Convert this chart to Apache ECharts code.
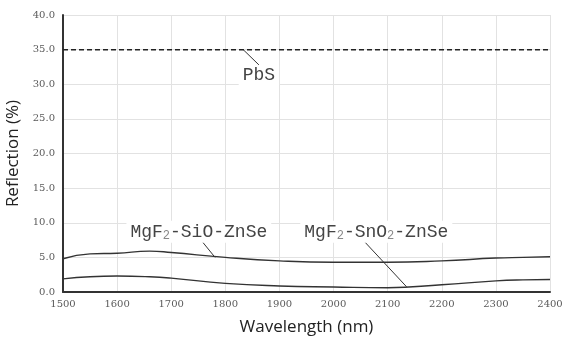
<!DOCTYPE html>
<html>
<head>
<meta charset="utf-8">
<script src="https://cdn.jsdelivr.net/npm/echarts@6/dist/echarts.min.js"></script>
<style>
  html, body { margin: 0; padding: 0; background: #fff; }
  #chart { width: 563px; height: 340px; }
</style>
</head>
<body>
<div id="chart"></div>
<script>
const wavelengths = [1500, 1550, 1600, 1660, 1700, 1800, 1900, 2000, 2100, 2200, 2300, 2350, 2400];
const sioZnse = [4.8, 5.5, 5.6, 5.9, 5.7, 5.0, 4.5, 4.3, 4.3, 4.5, 4.9, 5.0, 5.1];
const sno2Znse = [1.9, 2.2, 2.3, 2.2, 2.0, 1.25, 0.87, 0.72, 0.62, 1.05, 1.6, 1.75, 1.8];
const pbsLevel = 35;
const xTicks = [1500, 2400, 100];
const yTicks = [0, 40, 5];

const chart = echarts.init(document.getElementById('chart'));

const monoFont = '"Liberation Mono", "DejaVu Sans Mono", monospace';
const labelRich = {
  t: { fontFamily: monoFont, fontSize: 18, color: '#444' },
  s: { fontFamily: monoFont, fontSize: 12, color: '#888', padding: [8, 0, 0, 0] }
};

function note(x, y, text) {
  return {
    coord: [x, y],
    symbol: 'rect',
    symbolSize: 1,
    itemStyle: { color: 'rgba(255,255,255,0)' },
    label: {
      show: true,
      position: 'inside',
      formatter: text,
      rich: labelRich,
      backgroundColor: '#fff',
      padding: [1, 4]
    }
  };
}

function leader(x1, y1, x2, y2) {
  return [{ coord: [x1, y1] }, { coord: [x2, y2] }];
}

const leaderStyle = { color: '#333', width: 1, type: 'solid' };

const option = {
  animation: false,
  grid: { left: 63, right: 13, top: 15, bottom: 48, outerBoundsMode: 'none' },
  xAxis: {
    type: 'value',
    min: xTicks[0],
    max: xTicks[1],
    interval: xTicks[2],
    name: 'Wavelength (nm)',
    nameLocation: 'middle',
    nameGap: 27,
    nameTextStyle: { fontFamily: '"Open Sans", sans-serif', fontSize: 17, color: '#222' },
    axisLine: { lineStyle: { color: '#333', width: 2 } },
    axisTick: { show: false },
    axisLabel: { color: '#5a5a5a', fontSize: 10, fontFamily: '"DejaVu Serif", serif', margin: 7,
      formatter: v => String(v) },
    splitLine: { lineStyle: { color: '#e2e2e2', width: 1 } }
  },
  yAxis: {
    type: 'value',
    min: yTicks[0],
    max: yTicks[1],
    interval: yTicks[2],
    name: 'Reflection (%)',
    nameLocation: 'middle',
    nameGap: 35,
    nameTextStyle: { fontFamily: '"Open Sans", sans-serif', fontSize: 17, color: '#222' },
    axisLine: { show: true, lineStyle: { color: '#333', width: 2 } },
    axisTick: { show: false },
    axisLabel: {
      color: '#5a5a5a', fontSize: 10, fontFamily: '"DejaVu Serif", serif', margin: 8,
      formatter: v => v.toFixed(1)
    },
    splitLine: { lineStyle: { color: '#e2e2e2', width: 1 } }
  },
  series: [
    {
      name: 'PbS',
      type: 'line',
      data: [[xTicks[0], pbsLevel], [xTicks[1], pbsLevel]],
      symbol: 'none',
      lineStyle: { color: '#222', width: 1.5, type: [5, 3] },
      markPoint: { silent: true, data: [note(1862, 31.3, '{t|PbS}')] },
      markLine: { symbol: 'none', silent: true, lineStyle: leaderStyle, label: { show: false },
        data: [leader(1833, 35, 1862, 32.8)] }
    },
    {
      name: 'MgF2-SiO-ZnSe',
      type: 'line',
      data: wavelengths.map((w, i) => [w, sioZnse[i]]),
      smooth: true,
      symbol: 'none',
      lineStyle: { color: '#333', width: 1.4 },
      z: 3,
      markPoint: { silent: true, data: [note(1751, 8.7, '{t|MgF}{s|2}{t|-SiO-ZnSe}')] },
      markLine: { symbol: 'none', silent: true, lineStyle: leaderStyle, label: { show: false },
        data: [leader(1755, 7.5, 1781, 5.0)] }
    },
    {
      name: 'MgF2-SnO2-ZnSe',
      type: 'line',
      data: wavelengths.map((w, i) => [w, sno2Znse[i]]),
      smooth: true,
      symbol: 'none',
      lineStyle: { color: '#333', width: 1.4 },
      markPoint: { silent: true, data: [note(2079, 8.7, '{t|MgF}{s|2}{t|-SnO}{s|2}{t|-ZnSe}')] },
      markLine: { symbol: 'none', silent: true, lineStyle: leaderStyle, label: { show: false },
        data: [leader(2058, 7.2, 2135, 0.75)] }
    }
  ]
};

chart.setOption(option);
</script>
</body>
</html>
